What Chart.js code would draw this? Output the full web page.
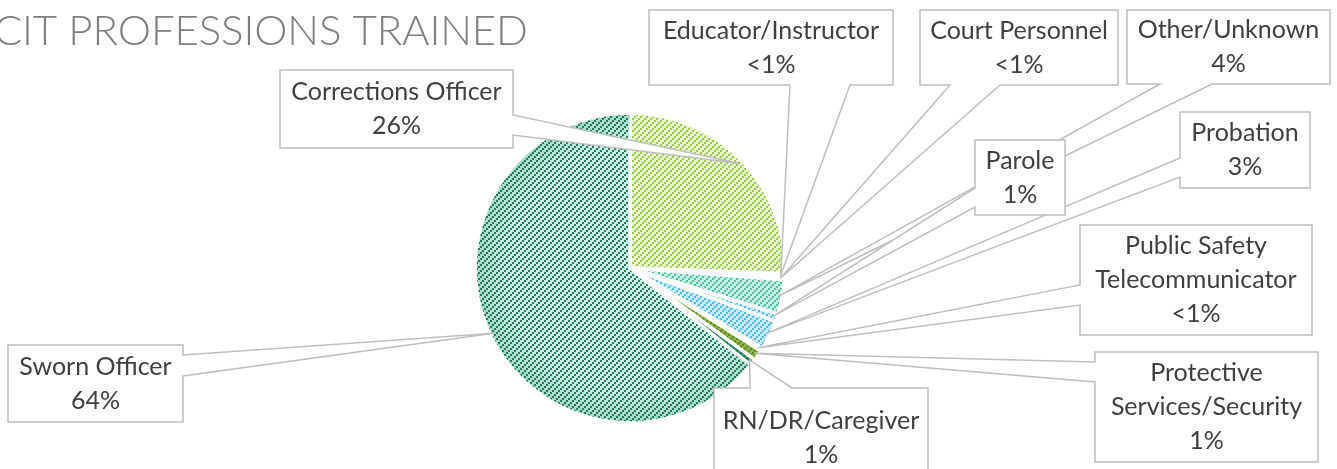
<!DOCTYPE html>
<html>
<head>
<meta charset="utf-8">
<script src="https://cdn.jsdelivr.net/npm/chart.js@4.4.1/dist/chart.umd.min.js"></script>
<style>
  html, body { margin: 0; padding: 0; background: #fff; overflow: hidden; }
</style>
</head>
<body>
<canvas id="pie" width="1337" height="469"></canvas>
<script>
// ---- data ----
const labels = ['Corrections Officer', 'Educator/Instructor', 'Court Personnel', 'Other/Unknown', 'Parole',
  'Probation', 'Public Safety Telecommunicator', 'Protective Services/Security', 'RN/DR/Caregiver', 'Sworn Officer'];
const values = [25.6, 0.3, 0.3, 3.6, 0.8, 3.1, 0.3, 1.1, 0.7, 64.2];
const pctText = ['26%', '<1%', '<1%', '4%', '1%', '3%', '<1%', '1%', '1%', '64%'];
const labelLines = [['Corrections Officer'], ['Educator/Instructor'], ['Court Personnel'], ['Other/Unknown'], ['Parole'],
  ['Probation'], ['Public Safety', 'Telecommunicator'], ['Protective', 'Services/Security'], ['RN/DR/Caregiver'], ['Sworn Officer']];

// ---- styles ----
const baseColors = ['#e8f5d3', '#c9ece2', '#cce9f7', '#c6eee2', '#c8eafb', '#c8eafc', '#d8ecc0', '#8db148', '#3b9270', '#cbf1e5'];
const dotColors  = ['#9acc45', '#48bf9c', '#42b6ee', '#4cc2a0', '#48b8ec', '#4bbcf2', '#7aa63a', '#5d8a22', '#1d6e4e', '#237e5e'];

// label boxes: [x, y, w, h], pointer side, pointer base (two coords along that side)
const callouts = [
  { i: 3, box: [1127, 10, 203, 74], side: 'bottom', base: [1160, 1212] },
  { i: 5, box: [1180, 112, 130, 76], side: 'left', base: [158, 177] },
  { i: 2, box: [920, 10, 198, 75], side: 'bottom', base: [950, 1000] },
  { i: 1, box: [649, 10, 244, 75], side: 'bottom', base: [790, 850] },
  { i: 4, box: [975, 140, 90, 75], side: 'left', base: [188, 207] },
  { i: 6, box: [1080, 225, 232, 110], side: 'left', base: [285, 305] },
  { i: 7, box: [1095, 352, 223, 110], side: 'left', base: [362, 382] },
  { i: 8, box: [714, 388, 214, 99], side: 'top', base: [750, 792] },
  { i: 9, box: [8, 345, 175, 77], side: 'right', base: [355, 376] },
  { i: 0, box: [280, 70, 233, 78], side: 'right', base: [115, 135] }
];

function makePattern(base, dot) {
  const c = document.createElement('canvas');
  c.width = 6; c.height = 6;
  const g = c.getContext('2d');
  g.fillStyle = base;
  g.fillRect(0, 0, 6, 6);
  g.fillStyle = dot;
  for (let bx = 0; bx < 3; bx++) {
    for (let by = 0; by < 3; by++) {
      if ((bx + by) % 3 === 0) g.fillRect(bx * 2, by * 2, 2, 2);
    }
  }
  return g.createPattern(c, 'repeat');
}
const fills = baseColors.map((b, k) => makePattern(b, dotColors[k]));

function calloutPath(ctx, b, side, base, tip) {
  const [x, y, w, h] = b;
  ctx.beginPath();
  ctx.moveTo(x, y);
  if (side === 'top') { ctx.lineTo(base[0], y); ctx.lineTo(tip[0], tip[1]); ctx.lineTo(base[1], y); }
  ctx.lineTo(x + w, y);
  if (side === 'right') { ctx.lineTo(x + w, base[0]); ctx.lineTo(tip[0], tip[1]); ctx.lineTo(x + w, base[1]); }
  ctx.lineTo(x + w, y + h);
  if (side === 'bottom') { ctx.lineTo(base[1], y + h); ctx.lineTo(tip[0], tip[1]); ctx.lineTo(base[0], y + h); }
  ctx.lineTo(x, y + h);
  if (side === 'left') { ctx.lineTo(x, base[1]); ctx.lineTo(tip[0], tip[1]); ctx.lineTo(x, base[0]); }
  ctx.closePath();
}

const titlePlugin = {
  id: 'title',
  beforeDraw(chart) {
    const ctx = chart.ctx;
    const txt = 'CIT PROFESSIONS TRAINED';
    ctx.save();
    ctx.font = '300 42px Lato, "Open Sans", sans-serif';
    ctx.fillStyle = '#7f7f7f';
    ctx.textBaseline = 'alphabetic';
    const rest = txt.slice(1);
    const w0 = rest.split('').reduce((s, ch) => s + ctx.measureText(ch).width, 0);
    const ls = (528 - 22 - w0) / (rest.length - 1);
    let x = 22 - ls - ctx.measureText('C').width;
    for (const ch of txt) {
      ctx.fillText(ch, x, 45);
      x += ctx.measureText(ch).width + ls;
    }
    ctx.restore();
  }
};

// soft darker rim inside the pie, like the original's inner shadow
const rimPlugin = {
  id: 'rim',
  afterDatasetsDraw(chart) {
    const ctx = chart.ctx;
    const a = chart.getDatasetMeta(0).data[9];
    const r = a.outerRadius;
    ctx.save();
    ctx.beginPath();
    ctx.moveTo(a.x, a.y);
    ctx.arc(a.x, a.y, r - 2, a.startAngle, a.endAngle);
    ctx.closePath();
    ctx.clip();
    const g = ctx.createRadialGradient(a.x, a.y, r * 0.8, a.x, a.y, r);
    g.addColorStop(0, 'rgba(20,110,80,0)');
    g.addColorStop(1, 'rgba(20,110,80,0.22)');
    ctx.fillStyle = g;
    ctx.fillRect(a.x - r, a.y - r, 2 * r, 2 * r);
    ctx.restore();
  }
};

const calloutPlugin = {
  id: 'callouts',
  afterDatasetsDraw(chart) {
    const ctx = chart.ctx;
    const meta = chart.getDatasetMeta(0);
    ctx.save();
    callouts.forEach(c => {
      const p = meta.data[c.i].getProps(['x', 'y', 'startAngle', 'endAngle', 'outerRadius'], true);
      const mid = (p.startAngle + p.endAngle) / 2;
      const r = p.outerRadius - 4;
      const tip = [p.x + Math.cos(mid) * r, p.y + Math.sin(mid) * r];
      calloutPath(ctx, c.box, c.side, c.base, tip);
      ctx.fillStyle = '#ffffff';
      ctx.fill();
      ctx.lineWidth = 1.5;
      ctx.strokeStyle = '#bfbfbf';
      ctx.stroke();

      const lines = labelLines[c.i].concat([pctText[c.i]]);
      const [x, y, w, h] = c.box;
      const lh = 34;
      ctx.font = '25px Lato, "Open Sans", sans-serif';
      ctx.fillStyle = '#404040';
      ctx.textAlign = 'center';
      ctx.textBaseline = 'middle';
      const cy = y + h / 2 - (lines.length - 1) * lh / 2;
      lines.forEach((t, k) => ctx.fillText(t, x + w / 2, cy + k * lh));
    });
    ctx.restore();
  }
};

new Chart(document.getElementById('pie'), {
  type: 'pie',
  data: {
    labels: labels,
    datasets: [{
      data: values,
      backgroundColor: fills,
      borderColor: '#ffffff',
      borderWidth: 3.5
    }]
  },
  options: {
    responsive: false,
    animation: false,
    radius: 155,
    layout: { padding: { left: 0, right: 77, top: 67, bottom: 0 } },
    plugins: { legend: { display: false }, tooltip: { enabled: false }, title: { display: false } }
  },
  plugins: [titlePlugin, rimPlugin, calloutPlugin]
});
</script>
</body>
</html>
